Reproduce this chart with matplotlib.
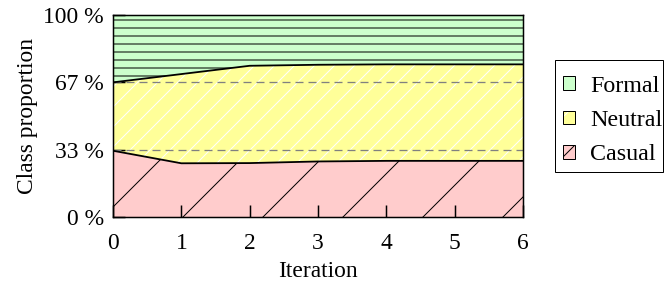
import matplotlib.pyplot as plt
from matplotlib.patches import Patch, Rectangle
from matplotlib.legend_handler import HandlerTuple

# figure drawn at high dpi so that the hatch spacing matches
D = 240
P = 72 / D  # points per pixel

iterations = [0, 1, 2, 3, 4, 5, 6]
casual = [0.329, 0.267, 0.268, 0.276, 0.279, 0.279, 0.279]
neutral = [0.338, 0.441, 0.481, 0.478, 0.477, 0.477, 0.477]
formal = [0.333, 0.292, 0.251, 0.246, 0.244, 0.244, 0.244]

labels = ["Formal", "Neutral", "Casual"]
colors = {"Formal": "#ccffcc", "Neutral": "#ffff99", "Casual": "#ffcccc"}
hatches = {"Formal": "-----", "Neutral": "////", "Casual": "/"}
hcolors = {"Formal": "black", "Neutral": "white", "Casual": "black"}

ytick_vals = [0, 1 / 3, 2 / 3, 1]
ytick_labels = ["0 %", "33 %", "67 %", "100 %"]

plt.rcParams["font.family"] = ["Liberation Serif", "DejaVu Serif"]
plt.rcParams["hatch.linewidth"] = 1.0 * P
plt.rcParams["lines.scale_dashes"] = False
fs = 23.5 * P

fig = plt.figure(figsize=(665 / D, 284 / D), dpi=D)
ax = fig.add_axes([113 / 665, (284 - 217.3) / 284, 410 / 665, 202.3 / 284])

lower = [0] * len(iterations)
mid = [c + n for c, n in zip(casual, neutral)]
top = [m + f for m, f in zip(mid, formal)]
bands = {"Casual": (lower, casual), "Neutral": (casual, mid), "Formal": (mid, top)}

for name in ["Casual", "Neutral", "Formal"]:
    lo, hi = bands[name]
    ax.fill_between(iterations, lo, hi, facecolor=colors[name], edgecolor=hcolors[name],
                    hatch=hatches[name], linewidth=0, zorder=1)

for v in [1 / 3, 2 / 3]:
    ax.axhline(v, color="#808080", lw=1.3 * P, ls=(0, (8 * P, 5 * P)), zorder=2)

ax.plot(iterations, casual, color="black", lw=1.8 * P, zorder=3)
ax.plot(iterations, mid, color="black", lw=1.8 * P, zorder=3)

ax.set_xlim(0, 6)
ax.set_ylim(0, 1)
ax.set_xticks(iterations)
ax.set_yticks(ytick_vals)
ax.set_yticklabels(ytick_labels)
ax.tick_params(direction="in", length=12 * P, width=1.5 * P, labelsize=fs)
ax.tick_params(axis="x", pad=16 * P)
ax.tick_params(axis="y", pad=9 * P)
for s in ax.spines.values():
    s.set_linewidth(1.5 * P)

ax.set_xlabel("Iteration", fontsize=fs, labelpad=7 * P)
ax.set_ylabel("Class proportion", fontsize=fs, labelpad=5 * P)

handles = []
for name in labels:
    fill = Patch(facecolor=colors[name], edgecolor=hcolors[name],
                 hatch=hatches[name].replace("-----", "-"), linewidth=0)
    edge = Patch(facecolor="none", edgecolor="black", linewidth=1.0 * P)
    handles.append((fill, edge))

leg = fig.legend(handles, labels, handler_map={tuple: HandlerTuple(ndivide=1)},
                 loc="center left", bbox_to_anchor=(555 / 665, 1 - 120.5 / 284),
                 fontsize=24 * P, frameon=False,
                 handlelength=0.5, handleheight=0.5, handletextpad=0.6,
                 labelspacing=0.55, borderpad=0.35, borderaxespad=0)

# legend frame (taller than the entries need)
fig.add_artist(Rectangle((555 / 665, (284 - 172) / 284), 108 / 665, 112 / 284,
                         transform=fig.transFigure, fill=False, edgecolor="black",
                         linewidth=1.0 * P))

fig.savefig("out.png", dpi=D)
